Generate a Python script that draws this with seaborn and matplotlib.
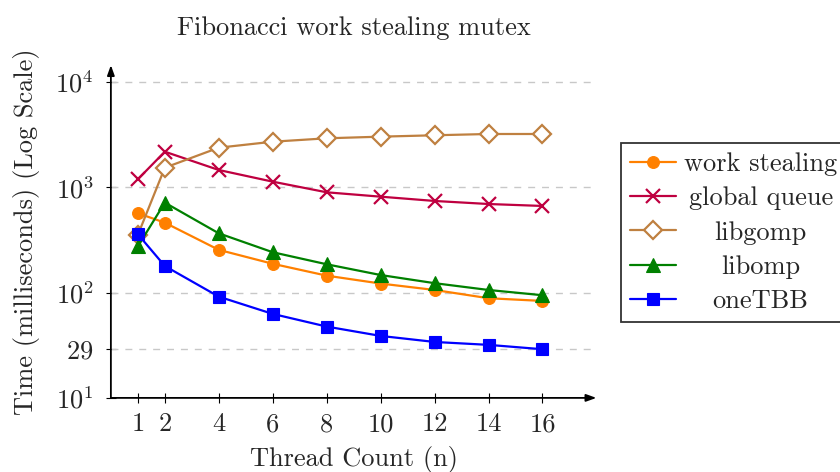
import numpy as np
import pandas as pd
import seaborn as sns
import matplotlib
matplotlib.use("Agg")
import matplotlib.pyplot as plt
from matplotlib.ticker import FixedLocator, FixedFormatter, NullLocator
from matplotlib.lines import Line2D

threads = [1, 2, 4, 6, 8, 10, 12, 14, 16]
work_stealing = [568, 462, 255, 188, 145, 122, 106, 88.5, 83.4]
global_queue = [1194, 2183, 1463, 1133, 898, 816, 743, 695, 666]
libgomp = [353, 1538, 2383, 2716, 2926, 3033, 3126, 3215, 3215]
libomp = [275, 716, 366, 242, 186, 147, 123, 106, 94.5]
onetbb = [359, 179, 91.6, 62.8, 47.6, 38.8, 34.0, 31.9, 29.0]

series_names = ["work stealing", "global queue", "libgomp", "libomp", "oneTBB"]
series_values = [work_stealing, global_queue, libgomp, libomp, onetbb]
y_ticks = [10, 29, 100, 1000, 10000]
y_tick_labels = [r"$10^{1}$", r"$29$", r"$10^{2}$", r"$10^{3}$", r"$10^{4}$"]
x_ticks = threads

title = "Fibonacci work stealing mutex"
xlabel = "Thread Count (n)"
ylabel = "Time (milliseconds) (Log Scale)"

colors = {"work stealing": "#FF8000", "global queue": "#BF0040",
          "libgomp": "#BF8040", "libomp": "#008000", "oneTBB": "#0000FF"}
markers = {"work stealing": "o", "global queue": "x", "libgomp": "D",
           "libomp": "^", "oneTBB": "s"}
msizes = {"work stealing": 8.5, "global queue": 10, "libgomp": 9.5,
          "libomp": 9.5, "oneTBB": 8.5}

df = pd.DataFrame({
    "threads": np.tile(threads, len(series_names)),
    "time": np.concatenate(series_values),
    "series": np.repeat(series_names, len(threads)),
})

FS = 19

sns.set_theme(style="white")
plt.rcParams["font.family"] = ["cmr10", "DejaVu Serif"]
plt.rcParams["mathtext.fontset"] = "cm"
plt.rcParams["axes.formatter.use_mathtext"] = True
plt.rcParams["axes.unicode_minus"] = False

fig = plt.figure(figsize=(8.4, 4.72), dpi=100)
ax = fig.add_axes([0.132, 0.157, 0.578, 0.705])


def style_for(name):
    hollow = name == "libgomp"
    return dict(color=colors[name], marker=markers[name],
                markersize=msizes[name],
                markerfacecolor="white" if hollow else colors[name],
                markeredgecolor=colors[name],
                markeredgewidth=1.6 if name in ("global queue", "libgomp") else 0.8,
                linewidth=1.6)


for name in series_names:
    sub = df[df["series"] == name]
    sns.lineplot(data=sub, x="threads", y="time", ax=ax, label=name,
                 legend=False, zorder=3, **style_for(name))

ax.set_yscale("log")
ax.set_xlim(0, 18)
ax.set_ylim(10, 14500)
ax.yaxis.set_major_locator(FixedLocator(y_ticks))
ax.yaxis.set_major_formatter(FixedFormatter(y_tick_labels))
ax.yaxis.set_minor_locator(NullLocator())
ax.set_xticks(x_ticks)
ax.set_xticklabels([str(t) for t in x_ticks])
ax.tick_params(axis="both", labelsize=FS, direction="inout", length=7, width=0.8,
               color="black", left=True, bottom=True)
ax.tick_params(axis="x", pad=7)
ax.tick_params(axis="y", pad=9)

for y in y_ticks:
    ax.axhline(y, color="#c8c8c8", linestyle=(0, (5, 5)), linewidth=1.0, zorder=1)

for s in ["top", "right", "left", "bottom"]:
    ax.spines[s].set_visible(False)
ax.annotate("", xy=(0, 1.0), xytext=(0, 0), xycoords="axes fraction",
            arrowprops=dict(arrowstyle="-|>,head_length=0.5,head_width=0.18",
                            color="black", lw=1.3, shrinkA=0, shrinkB=0))
ax.annotate("", xy=(1.0, 0), xytext=(0, 0), xycoords="axes fraction",
            arrowprops=dict(arrowstyle="-|>,head_length=0.5,head_width=0.18",
                            color="black", lw=1.3, shrinkA=0, shrinkB=0))

ax.set_title(title, fontsize=FS, pad=22)
ax.set_xlabel(xlabel, fontsize=FS, labelpad=7)
ax.set_ylabel(ylabel, fontsize=FS, labelpad=11)

handles = [Line2D([0], [0], **style_for(n)) for n in series_names]
leg = fig.legend(handles, series_names, loc="upper left",
                 bbox_to_anchor=(0.739, 0.697), fontsize=FS, frameon=True,
                 fancybox=False, edgecolor="black", handlelength=1.75,
                 handletextpad=0.3, borderpad=0.35, labelspacing=0.40,
                 borderaxespad=0)
leg.get_frame().set_linewidth(1.3)

# center legend texts like pgfplots
fig.canvas.draw()
r = fig.canvas.get_renderer()
widths = [t.get_window_extent(r).width for t in leg.get_texts()]
mw = max(widths)
for t, w in zip(leg.get_texts(), widths):
    t.set_x((mw - w) / 2)

fig.savefig("out.png", dpi=100)
